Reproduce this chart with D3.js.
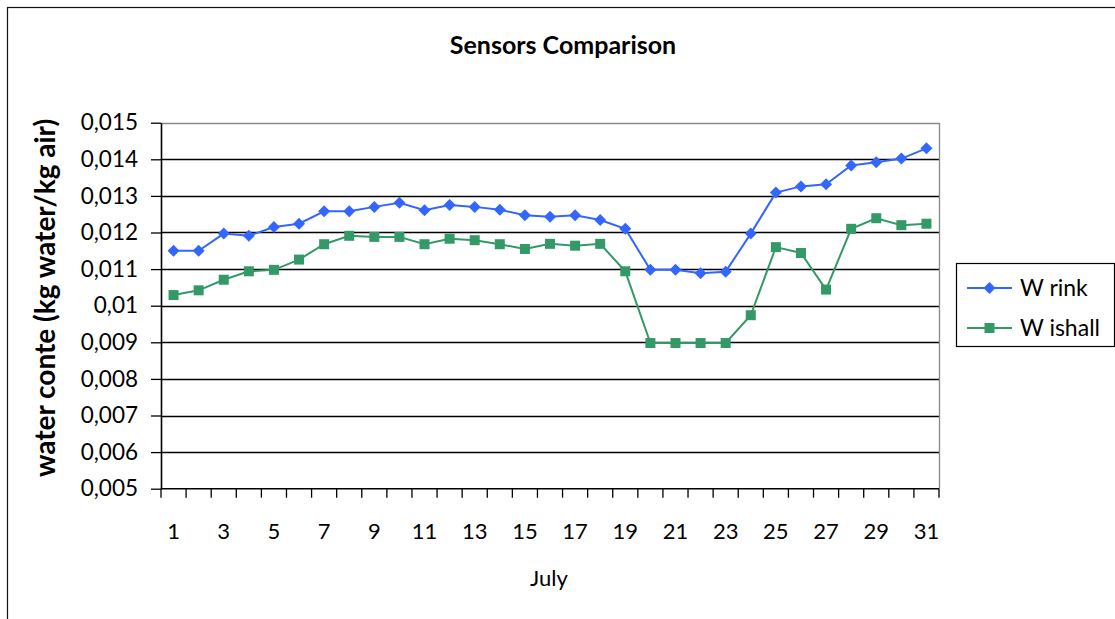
<!DOCTYPE html>
<html>
<head>
<meta charset="utf-8">
<script src="https://cdn.jsdelivr.net/npm/d3@7"></script>
<style>
  html, body { margin: 0; padding: 0; background: #fff; }
  svg { display: block; font-family: Lato, "Open Sans", sans-serif; }
</style>
</head>
<body>
<svg id="chart" width="1115" height="619"></svg>
<script>
// July days on the category axis
const days = d3.range(1, 32);
const dayLabels = days.filter(d => d % 2 === 1);

// Water content, kg water / kg air
const wRink = [
  0.01150, 0.01150, 0.01197, 0.01191, 0.01215, 0.01224, 0.01258, 0.01258,
  0.01270, 0.01281, 0.01261, 0.01275, 0.01270, 0.01262, 0.01247, 0.01243,
  0.01247, 0.01234, 0.01210, 0.01098, 0.01098, 0.01089, 0.01093, 0.01197,
  0.01309, 0.01326, 0.01332, 0.01383, 0.01392, 0.01402, 0.01430
];
const wIshall = [
  0.01029, 0.01042, 0.01071, 0.01094, 0.01098, 0.01126, 0.01168, 0.01191,
  0.01188, 0.01188, 0.01168, 0.01183, 0.01179, 0.01168, 0.01155, 0.01169,
  0.01164, 0.01169, 0.01094, 0.00898, 0.00898, 0.00898, 0.00898, 0.00974,
  0.01160, 0.01144, 0.01044, 0.01210, 0.01239, 0.01220, 0.01224
];
const yTicks = [0.005, 0.006, 0.007, 0.008, 0.009, 0.010, 0.011, 0.012, 0.013, 0.014, 0.015];
const seriesNames = ["W rink", "W ishall"];

const svg = d3.select("#chart");
const plot = { left: 161, right: 939, top: 122.7, bottom: 488.7 };

// Outer chart frame
svg.append("rect")
  .attr("x", 7.5).attr("y", 7.5)
  .attr("width", 1140).attr("height", 640)
  .attr("fill", "#fff").attr("stroke", "#111").attr("stroke-width", 1.2);

const x = d3.scaleBand().domain(days).range([plot.left, plot.right]).paddingInner(0).paddingOuter(0);
const y = d3.scaleLinear().domain([0.005, 0.015]).range([plot.bottom, plot.top]);

const fmt = v => {
  const s = d3.format(".3f")(v).replace(/0+$/, "").replace(/\.$/, "");
  return s.replace(".", ",");
};

// Symmetric diamond marker
const diamond = {
  draw(ctx, size) {
    const r = Math.sqrt(size / 2);
    ctx.moveTo(0, -r); ctx.lineTo(r, 0); ctx.lineTo(0, r); ctx.lineTo(-r, 0); ctx.closePath();
  }
};

// Horizontal gridlines
svg.append("g")
  .selectAll("line")
  .data(yTicks.filter(t => t > 0.005 && t < 0.015))
  .join("line")
  .attr("x1", plot.left).attr("x2", plot.right)
  .attr("y1", d => Math.round(y(d)) + 0.5).attr("y2", d => Math.round(y(d)) + 0.5)
  .attr("stroke", "#000").attr("stroke-width", 1.3);

// Plot area border on top and right
svg.append("path")
  .attr("d", `M${plot.left},${Math.round(plot.top) + 0.5}H${Math.round(plot.right) + 0.5}V${plot.bottom}`)
  .attr("fill", "none").attr("stroke", "#888").attr("stroke-width", 1.3);

// Y axis
const yAxis = svg.append("g")
  .attr("transform", `translate(${plot.left},0)`)
  .call(d3.axisLeft(y).tickValues(yTicks).tickFormat(fmt).tickSize(10).tickSizeOuter(0).tickPadding(13));
yAxis.select(".domain").attr("stroke", "#000").attr("stroke-width", 1.6);
yAxis.selectAll(".tick line").attr("stroke", "#000").attr("stroke-width", 1.3);
yAxis.selectAll(".tick text").attr("font-size", 22.5).attr("fill", "#000")
  .attr("font-family", "Lato, sans-serif");

// X axis: ticks sit on category boundaries, labels on every other day
const xAxisG = svg.append("g").attr("transform", `translate(0,${plot.bottom})`);
xAxisG.append("line")
  .attr("x1", plot.left).attr("x2", plot.right).attr("y1", 0).attr("y2", 0)
  .attr("stroke", "#000").attr("stroke-width", 1.6);
const boundaries = days.map(d => x(d)).concat([x(31) + x.bandwidth()]);
xAxisG.selectAll("line.tk")
  .data(boundaries)
  .join("line").attr("class", "tk")
  .attr("x1", d => d).attr("x2", d => d).attr("y1", 0).attr("y2", 9)
  .attr("stroke", "#000").attr("stroke-width", 1.3);
xAxisG.selectAll("text")
  .data(dayLabels)
  .join("text")
  .attr("x", d => x(d) + x.bandwidth() / 2)
  .attr("y", 50)
  .attr("text-anchor", "middle")
  .attr("font-size", 22)
  .text(d => d);

// Axis titles and chart title
svg.append("text")
  .attr("x", 549).attr("y", 586)
  .attr("text-anchor", "middle").attr("font-size", 22)
  .text("July");
svg.append("text")
  .attr("transform", "translate(55,298) rotate(-90)")
  .attr("text-anchor", "middle").attr("font-size", 28).attr("font-weight", "bold")
  .text("water conte (kg water/kg air)");
svg.append("text")
  .attr("x", 563).attr("y", 54)
  .attr("text-anchor", "middle").attr("font-size", 25).attr("font-weight", "bold")
  .text("Sensors Comparison");

// Series lines and markers
const series = [
  { name: seriesNames[0], values: wRink, color: "#3366FF", symbol: diamond, size: 72 },
  { name: seriesNames[1], values: wIshall, color: "#339966", symbol: d3.symbolSquare, size: 100 }
];
const cx = i => x(days[i]) + x.bandwidth() / 2;
const line = d3.line().x((d, i) => cx(i)).y(d => y(d));

series.forEach(s => {
  svg.append("path")
    .datum(s.values)
    .attr("d", line)
    .attr("fill", "none").attr("stroke", s.color).attr("stroke-width", 2);
  svg.append("g")
    .selectAll("path")
    .data(s.values)
    .join("path")
    .attr("transform", (d, i) => `translate(${cx(i)},${y(d)})`)
    .attr("d", d3.symbol().type(s.symbol).size(s.size))
    .attr("fill", s.color);
});

// Legend
const legend = svg.append("g");
legend.append("rect")
  .attr("x", 956.5).attr("y", 263.5).attr("width", 158).attr("height", 83)
  .attr("fill", "#fff").attr("stroke", "#000").attr("stroke-width", 1.2);
series.forEach((s, i) => {
  const ly = 288 + i * 40;
  legend.append("line")
    .attr("x1", 967).attr("x2", 1012).attr("y1", ly).attr("y2", ly)
    .attr("stroke", s.color).attr("stroke-width", 2);
  legend.append("path")
    .attr("transform", `translate(989.5,${ly})`)
    .attr("d", d3.symbol().type(s.symbol).size(s.size))
    .attr("fill", s.color);
  legend.append("text")
    .attr("x", 1020).attr("y", ly + 8)
    .attr("font-size", 23)
    .text(s.name);
});
</script>
</body>
</html>
